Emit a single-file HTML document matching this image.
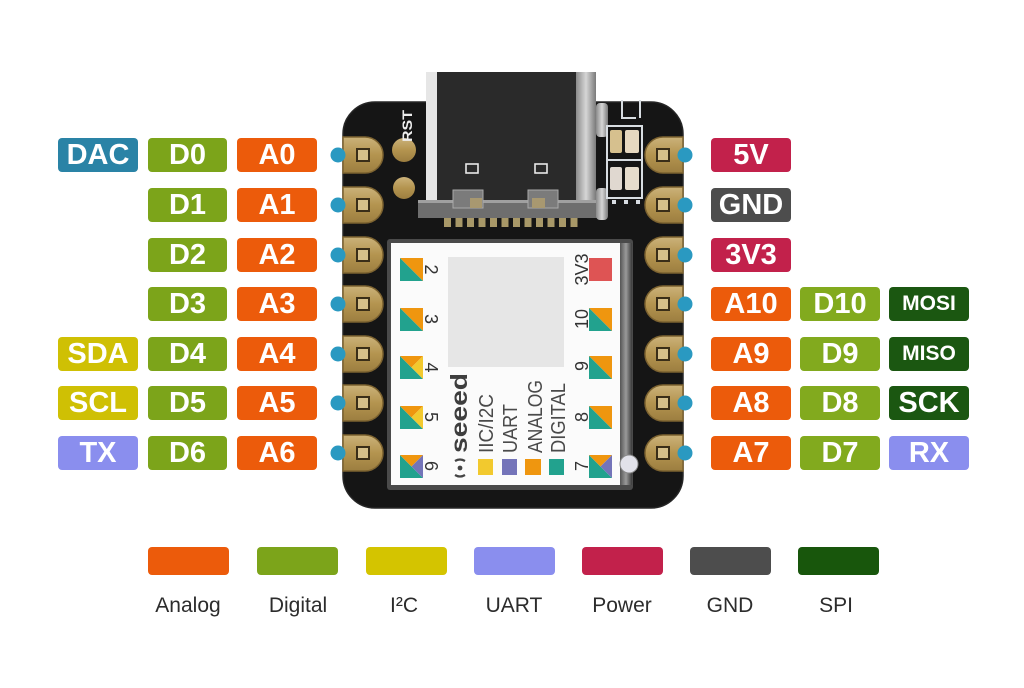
<!DOCTYPE html>
<html><head><meta charset="utf-8"><style>
html,body{margin:0;padding:0;background:#fff;}
body{width:1024px;height:688px;position:relative;overflow:hidden;font-family:"Liberation Sans",Arial,sans-serif;}
.l{position:absolute;height:34px;line-height:34px;border-radius:4px;color:#fff;font-weight:bold;font-size:29px;text-align:center;letter-spacing:0px;}
.an{background:#EC5B0B;}.dg{background:#7CA41A;}.dac{background:#2A83A6;}.i2c{background:#CFC004;}
.ua{background:#8A8EEE;}.pw{background:#C2214B;}.gn{background:#4D4D4D;}.spi{background:#1B5711;}
.sm{font-size:21px;}
.lg{position:absolute;top:547px;width:81px;height:28px;border-radius:4px;}
.lt{position:absolute;top:594px;width:110px;text-align:center;font-size:21px;color:#2c2c2c;}
</style></head><body>
<svg width="1024" height="688" style="position:absolute;left:0;top:0">
<defs>
<linearGradient id="gold" x1="0" y1="0" x2="0" y2="1">
<stop offset="0" stop-color="#cbb27a"/><stop offset="0.5" stop-color="#b4944f"/><stop offset="1" stop-color="#9c7e40"/>
</linearGradient>
<linearGradient id="met" x1="0" y1="0" x2="1" y2="0">
<stop offset="0" stop-color="#8a8a8a"/><stop offset="0.5" stop-color="#d6d6d6"/><stop offset="1" stop-color="#7a7a7a"/>
</linearGradient>
<linearGradient id="met2" x1="0" y1="0" x2="1" y2="0">
<stop offset="0" stop-color="#555"/><stop offset="0.5" stop-color="#9a9a9a"/><stop offset="1" stop-color="#3a3a3a"/>
</linearGradient>
</defs>
<!-- board -->
<rect x="343" y="102" width="340" height="406" rx="32" fill="#151515" stroke="#262626" stroke-width="1.5"/>
<!-- RST -->
<circle cx="404" cy="150" r="12" fill="url(#gold)"/>
<circle cx="404" cy="188" r="11" fill="url(#gold)"/>
<text transform="translate(412,142) rotate(-90)" font-family="Liberation Sans" font-weight="bold" font-size="14" fill="#eee" textLength="32" lengthAdjust="spacingAndGlyphs">RST</text>
<!-- USB -->
<rect x="426" y="72" width="170" height="146" fill="#c4c4c4"/>
<rect x="426" y="72" width="11" height="134" fill="#e6e6e6"/>
<rect x="437" y="72" width="139" height="134" fill="#2a2a2a"/>
<rect x="576" y="72" width="20" height="134" fill="url(#met)"/>
<rect x="466" y="164" width="12" height="9" fill="none" stroke="#e8e8e8" stroke-width="1.6"/>
<rect x="535" y="164" width="12" height="9" fill="none" stroke="#e8e8e8" stroke-width="1.6"/>
<rect x="418" y="200" width="182" height="18" fill="#6e6e6e"/>
<rect x="418" y="200" width="182" height="3" fill="#a0a0a0"/>
<rect x="453" y="190" width="30" height="18" fill="#7b7b7b" stroke="#aaa" stroke-width="1"/>
<rect x="528" y="190" width="30" height="18" fill="#7b7b7b" stroke="#aaa" stroke-width="1"/>
<rect x="470" y="198" width="12" height="10" fill="#a89870"/>
<rect x="532" y="198" width="13" height="10" fill="#a89870"/>
<g fill="#a89868">
<rect x="444" y="218" width="7" height="9"/><rect x="455.5" y="218" width="7" height="9"/><rect x="467" y="218" width="7" height="9"/><rect x="478.5" y="218" width="7" height="9"/><rect x="490" y="218" width="7" height="9"/><rect x="501.5" y="218" width="7" height="9"/><rect x="513" y="218" width="7" height="9"/><rect x="524.5" y="218" width="7" height="9"/><rect x="536" y="218" width="7" height="9"/><rect x="547.5" y="218" width="7" height="9"/><rect x="559" y="218" width="7" height="9"/><rect x="570.5" y="218" width="7" height="9"/>
</g>
<rect x="596" y="103" width="12" height="34" rx="4" fill="url(#met)"/>
<rect x="596" y="188" width="12" height="32" rx="4" fill="url(#met)"/>
<!-- LEDs -->
<path d="M607,126 H642 V198 H607 Z M607,160 H642" fill="none" stroke="#d8dde2" stroke-width="2"/>
<path d="M622,100 V118 H636 M640,100 V118" fill="none" stroke="#d8dde2" stroke-width="2"/>
<rect x="610" y="130" width="12" height="23" rx="2" fill="#d6c08e"/>
<rect x="625" y="130" width="14" height="23" rx="2" fill="#e6d8c0"/>
<rect x="610" y="167" width="12" height="23" rx="2" fill="#e0d8d0"/>
<rect x="625" y="167" width="14" height="23" rx="2" fill="#e6dccc"/>
<g fill="#d8dde2"><rect x="612" y="200" width="4" height="4"/><rect x="624" y="200" width="4" height="4"/><rect x="636" y="200" width="4" height="4"/></g>
<!-- module -->
<rect x="387" y="239" width="246" height="251" rx="3" fill="#4a4a4a"/>
<rect x="391" y="243" width="229" height="242" fill="#fbfbfb"/>
<rect x="620" y="243" width="12" height="242" fill="url(#met2)"/>
<circle cx="629" cy="464" r="9" fill="#e2e2ea" stroke="#888" stroke-width="1"/>
<rect x="448" y="257" width="116" height="110" fill="#e6e6e6"/>
<!-- left icons -->
<g>
<polygon points="400,258 423,258 423,281" fill="#EF960F"/><polygon points="400,258 400,281 423,281" fill="#22A28E"/>
<polygon points="400,308 423,308 423,331" fill="#EF960F"/><polygon points="400,308 400,331 423,331" fill="#22A28E"/>
<polygon points="400,356 400,379 423,379" fill="#22A28E"/><polygon points="400,356 423,356 411.5,367.5" fill="#EF960F"/><polygon points="423,356 423,379 411.5,367.5" fill="#F2C92E"/>
<polygon points="400,406 400,429 423,429" fill="#22A28E"/><polygon points="400,406 423,406 411.5,417.5" fill="#EF960F"/><polygon points="423,406 423,429 411.5,417.5" fill="#F2C92E"/>
<polygon points="400,455 400,478 423,478" fill="#22A28E"/><polygon points="400,455 423,455 411.5,466.5" fill="#EF960F"/><polygon points="423,455 423,478 411.5,466.5" fill="#7474B9"/>
</g>
<!-- right icons -->
<rect x="589" y="258" width="23" height="23" fill="#DE5454"/>
<polygon points="589,308 612,308 612,331" fill="#EF960F"/><polygon points="589,308 589,331 612,331" fill="#22A28E"/>
<polygon points="589,356 612,356 612,379" fill="#EF960F"/><polygon points="589,356 589,379 612,379" fill="#22A28E"/>
<polygon points="589,406 612,406 612,429" fill="#EF960F"/><polygon points="589,406 589,429 612,429" fill="#22A28E"/>
<polygon points="589,455 589,478 612,478" fill="#22A28E"/><polygon points="589,455 612,455 600.5,466.5" fill="#EF960F"/><polygon points="612,455 612,478 600.5,466.5" fill="#7474B9"/>
<!-- numbers -->
<g font-family="Liberation Sans" font-size="18" fill="#333" text-anchor="middle">
<text transform="translate(425,269.5) rotate(90)">2</text>
<text transform="translate(425,319) rotate(90)">3</text>
<text transform="translate(425,367.5) rotate(90)">4</text>
<text transform="translate(425,417) rotate(90)">5</text>
<text transform="translate(425,466) rotate(90)">6</text>
<text transform="translate(588,269.5) rotate(-90)">3V3</text>
<text transform="translate(588,319) rotate(-90)">10</text>
<text transform="translate(588,366) rotate(-90)">9</text>
<text transform="translate(588,417) rotate(-90)">8</text>
<text transform="translate(588,466) rotate(-90)">7</text>
</g>
<!-- module text -->
<g font-family="Liberation Sans" fill="#4a4a4a">
<text transform="translate(467,453) rotate(-90)" font-size="23" font-weight="bold" fill="#3e3e3e" textLength="80" lengthAdjust="spacingAndGlyphs">seeed</text>
<text transform="translate(493,453) rotate(-90)" font-size="20" textLength="59" lengthAdjust="spacingAndGlyphs">IIC/I2C</text>
<text transform="translate(517,453) rotate(-90)" font-size="20" textLength="49" lengthAdjust="spacingAndGlyphs">UART</text>
<text transform="translate(542,453) rotate(-90)" font-size="20" textLength="73" lengthAdjust="spacingAndGlyphs">ANALOG</text>
<text transform="translate(565,453) rotate(-90)" font-size="20" textLength="70" lengthAdjust="spacingAndGlyphs">DIGITAL</text>
</g>
<path d="M455,461 Q460,458 465,461 M455,475 Q460,478 465,475" fill="none" stroke="#444" stroke-width="2.2"/>
<circle cx="460" cy="468" r="2.4" fill="#444"/>
<rect x="478" y="459" width="15" height="16" fill="#F2C92E"/>
<rect x="502" y="459" width="15" height="16" fill="#7474B9"/>
<rect x="525" y="459" width="16" height="16" fill="#EF960F"/>
<rect x="549" y="459" width="15" height="16" fill="#22A28E"/>
<!-- pads -->
<g fill="url(#gold)" stroke="#7d6330" stroke-width="1.5">
<path d="M343,137 H365 A18,18 0 0 1 365,173 H343 Z"/>
<path d="M343,187 H365 A18,18 0 0 1 365,223 H343 Z"/>
<path d="M343,237 H365 A18,18 0 0 1 365,273 H343 Z"/>
<path d="M343,286 H365 A18,18 0 0 1 365,322 H343 Z"/>
<path d="M343,336 H365 A18,18 0 0 1 365,372 H343 Z"/>
<path d="M343,385 H365 A18,18 0 0 1 365,421 H343 Z"/>
<path d="M343,435 H365 A18,18 0 0 1 365,471 H343 Z"/>
<path d="M683,137 H663 A18,18 0 0 0 663,173 H683 Z"/>
<path d="M683,187 H663 A18,18 0 0 0 663,223 H683 Z"/>
<path d="M683,237 H663 A18,18 0 0 0 663,273 H683 Z"/>
<path d="M683,286 H663 A18,18 0 0 0 663,322 H683 Z"/>
<path d="M683,336 H663 A18,18 0 0 0 663,372 H683 Z"/>
<path d="M683,385 H663 A18,18 0 0 0 663,421 H683 Z"/>
<path d="M683,435 H663 A18,18 0 0 0 663,471 H683 Z"/>
</g>
<g fill="#d6c08a" stroke="#3a2e18" stroke-width="2">
<rect x="357" y="149" width="12" height="12"/><rect x="357" y="199" width="12" height="12"/><rect x="357" y="249" width="12" height="12"/><rect x="357" y="298" width="12" height="12"/><rect x="357" y="348" width="12" height="12"/><rect x="357" y="397" width="12" height="12"/><rect x="357" y="447" width="12" height="12"/>
<rect x="657" y="149" width="12" height="12"/><rect x="657" y="199" width="12" height="12"/><rect x="657" y="249" width="12" height="12"/><rect x="657" y="298" width="12" height="12"/><rect x="657" y="348" width="12" height="12"/><rect x="657" y="397" width="12" height="12"/><rect x="657" y="447" width="12" height="12"/>
</g>
<!-- dots -->
<g fill="#2A99C1">
<circle cx="338" cy="155" r="7.5"/><circle cx="338" cy="205" r="7.5"/><circle cx="338" cy="255" r="7.5"/><circle cx="338" cy="304" r="7.5"/><circle cx="338" cy="354" r="7.5"/><circle cx="338" cy="403" r="7.5"/><circle cx="338" cy="453" r="7.5"/>
<circle cx="685" cy="155" r="7.5"/><circle cx="685" cy="205" r="7.5"/><circle cx="685" cy="255" r="7.5"/><circle cx="685" cy="304" r="7.5"/><circle cx="685" cy="354" r="7.5"/><circle cx="685" cy="403" r="7.5"/><circle cx="685" cy="453" r="7.5"/>
</g>
</svg>

<!-- left labels -->
<div class="l dac" style="left:58px;top:138px;width:80px">DAC</div>
<div class="l dg" style="left:148px;top:138px;width:79px">D0</div>
<div class="l an" style="left:237px;top:138px;width:80px">A0</div>
<div class="l dg" style="left:148px;top:188px;width:79px">D1</div>
<div class="l an" style="left:237px;top:188px;width:80px">A1</div>
<div class="l dg" style="left:148px;top:238px;width:79px">D2</div>
<div class="l an" style="left:237px;top:238px;width:80px">A2</div>
<div class="l dg" style="left:148px;top:287px;width:79px">D3</div>
<div class="l an" style="left:237px;top:287px;width:80px">A3</div>
<div class="l i2c" style="left:58px;top:337px;width:80px">SDA</div>
<div class="l dg" style="left:148px;top:337px;width:79px">D4</div>
<div class="l an" style="left:237px;top:337px;width:80px">A4</div>
<div class="l i2c" style="left:58px;top:386px;width:80px">SCL</div>
<div class="l dg" style="left:148px;top:386px;width:79px">D5</div>
<div class="l an" style="left:237px;top:386px;width:80px">A5</div>
<div class="l ua" style="left:58px;top:436px;width:80px">TX</div>
<div class="l dg" style="left:148px;top:436px;width:79px">D6</div>
<div class="l an" style="left:237px;top:436px;width:80px">A6</div>

<!-- right labels -->
<div class="l pw" style="left:711px;top:138px;width:80px">5V</div>
<div class="l gn" style="left:711px;top:188px;width:80px">GND</div>
<div class="l pw" style="left:711px;top:238px;width:80px">3V3</div>
<div class="l an" style="left:711px;top:287px;width:80px">A10</div>
<div class="l dg" style="left:800px;top:287px;width:80px;background:#82AA1E">D10</div>
<div class="l spi sm" style="left:889px;top:287px;width:80px">MOSI</div>
<div class="l an" style="left:711px;top:337px;width:80px">A9</div>
<div class="l dg" style="left:800px;top:337px;width:80px;background:#82AA1E">D9</div>
<div class="l spi sm" style="left:889px;top:337px;width:80px">MISO</div>
<div class="l an" style="left:711px;top:386px;width:80px">A8</div>
<div class="l dg" style="left:800px;top:386px;width:80px;background:#82AA1E">D8</div>
<div class="l spi" style="left:889px;top:386px;width:80px">SCK</div>
<div class="l an" style="left:711px;top:436px;width:80px">A7</div>
<div class="l dg" style="left:800px;top:436px;width:80px;background:#82AA1E">D7</div>
<div class="l ua" style="left:889px;top:436px;width:80px">RX</div>

<!-- legend -->
<div class="lg an" style="left:148px"></div>
<div class="lg dg" style="left:257px"></div>
<div class="lg i2c" style="left:366px;background:#D4C400"></div>
<div class="lg ua" style="left:474px"></div>
<div class="lg pw" style="left:582px"></div>
<div class="lg gn" style="left:690px"></div>
<div class="lg spi" style="left:798px;background:#18560C"></div>
<div class="lt" style="left:133px">Analog</div>
<div class="lt" style="left:243px">Digital</div>
<div class="lt" style="left:349px">I²C</div>
<div class="lt" style="left:459px">UART</div>
<div class="lt" style="left:567px">Power</div>
<div class="lt" style="left:675px">GND</div>
<div class="lt" style="left:781px">SPI</div>
</body></html>
